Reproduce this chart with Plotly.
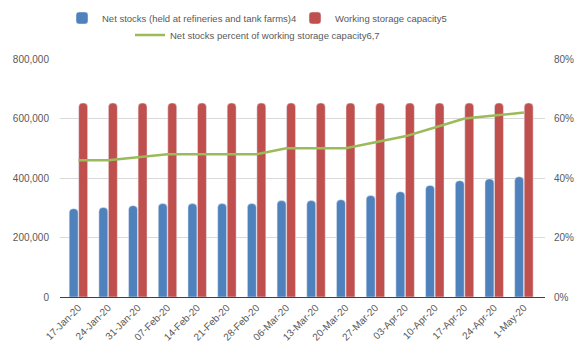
import plotly.graph_objects as go

dates = ["17-Jan-20", "24-Jan-20", "31-Jan-20", "07-Feb-20", "14-Feb-20", "21-Feb-20",
         "28-Feb-20", "06-Mar-20", "13-Mar-20", "20-Mar-20", "27-Mar-20", "03-Apr-20",
         "10-Apr-20", "17-Apr-20", "24-Apr-20", "1-May-20"]
net_stocks = [297000, 301000, 307000, 314000, 314000, 314000, 314000, 324000,
              324000, 327000, 341000, 354000, 375000, 391000, 397000, 404000]
capacity = [652000] * 16
pct = [0.46, 0.46, 0.47, 0.48, 0.48, 0.48, 0.48, 0.50,
       0.50, 0.50, 0.52, 0.54, 0.57, 0.60, 0.61, 0.62]

FONT = "Liberation Sans"
TXT = "#595959"
W, H = 583, 358

fig = go.Figure()
fig.add_trace(go.Bar(x=dates, y=net_stocks, name="Net stocks (held at refineries and tank farms)4",
                     marker_color="#4F81BD", legend="legend"))
fig.add_trace(go.Bar(x=dates, y=capacity, name="Working storage capacity5",
                     marker_color="#C0504D", legend="legend3"))
fig.add_trace(go.Scatter(x=dates, y=pct, name="Net stocks percent of working storage capacity6,7",
                         mode="lines", line=dict(color="#9BBB59", width=2.5),
                         yaxis="y2", legend="legend2"))


def leg(text_left_px, y_px):
    return dict(orientation="h", x=(text_left_px - 40) / W, xanchor="left", xref="container",
                y=1 - y_px / H, yanchor="middle", yref="container",
                font=dict(size=9.5, color=TXT), itemwidth=30,
                bgcolor="rgba(0,0,0,0)")


fig.update_layout(
    width=W, height=H,
    margin=dict(l=60, r=38, t=59, b=61, autoexpand=False),
    paper_bgcolor="white", plot_bgcolor="white",
    font=dict(family=FONT, size=10, color=TXT),
    barmode="group", bargap=0.36, bargroupgap=0.06, barcornerradius=4,
    showlegend=True,
    legend=leg(102, 18),
    legend3=leg(335, 18),
    legend2=leg(170, 35),
    xaxis=dict(tickangle=-45, showgrid=False, showline=True, linecolor="#404040",
               linewidth=1, tickfont=dict(size=10, color=TXT), ticks="", automargin=False,
               range=[-0.62, 15.71]),
    yaxis=dict(range=[0, 800000], dtick=200000, tickformat=",", showgrid=True,
               gridcolor="#D9D9D9", gridwidth=1, zeroline=False, showline=False,
               ticks="outside", ticklen=8, tickcolor="rgba(0,0,0,0)",
               tickfont=dict(size=10, color=TXT), automargin=False),
    yaxis2=dict(range=[0, 0.8], dtick=0.2, tickformat=".0%", overlaying="y", side="right",
                showgrid=False, zeroline=False, showline=False,
                ticks="outside", ticklen=6, tickcolor="rgba(0,0,0,0)",
                tickfont=dict(size=10, color=TXT), automargin=False),
)

fig.write_html("out.html", config={"displayModeBar": False},
               post_script="document.body.style.margin='0';document.body.style.overflow='hidden';")
